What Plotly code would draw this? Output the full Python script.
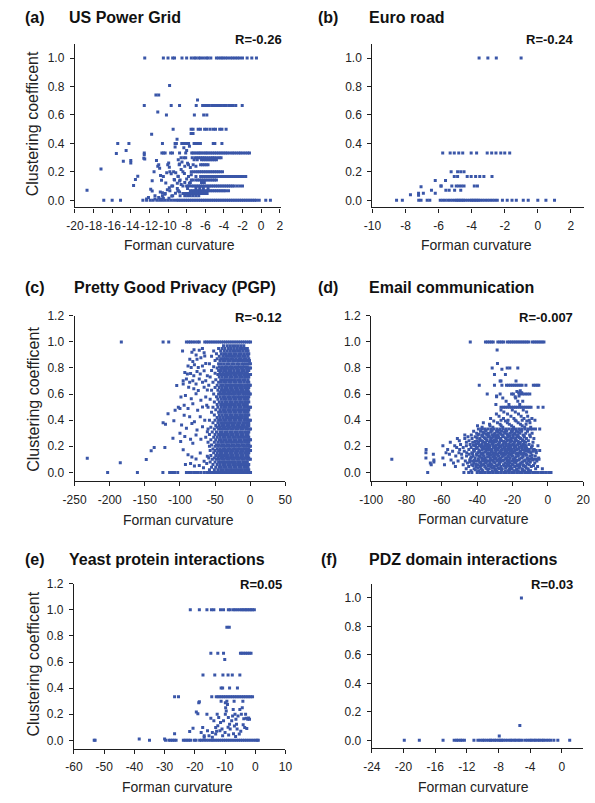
import plotly.graph_objects as go

# ---------------- (a) US Power Grid ----------------
grid_row_y = [1.0, 0.667, 0.6, 0.5, 0.4, 0.333, 0.3, 0.286, 0.25, 0.2, 0.167,
              0.143, 0.125, 0.1, 0.083, 0.067, 0.048, 0.033, 0.0]
grid_row_x = [
    [-12.5, -10.5, -10.0, -9.5, -9.3, -8.5, -8.0, -7.5, -7.2, -7.0, -6.7, -6.5, -6.2, -5.9, -5.7, -5.4,
     -4.8, -4.55, -4.3, -4.1, -3.85, -3.6, -3.3, -3.05, -2.8, -2.55, -2.3, -2.0, -1.5, -1.0, -0.5],
    [-12.55, -9.66, -8.76, -6.97, -6.28, -6.07, -5.83, -5.59, -5.31, -5.07, -4.79, -4.55, -4.28,
     -4.03, -3.76, -3.48, -3.24, -3.0, -2.72, -2.03],
    [-10.17, -7.17, -6.17, -5.83],
    [-9.45, -7.52, -7.31, -6.76, -6.52, -6.07, -5.83, -5.48, -5.14, -4.9, -4.45, -4.21, -3.76],
    [-15.4, -14.2, -10.6, -9.24, -9.1, -8.52, -8.24, -8.0, -7.79, -7.2, -7.03, -6.86, -6.69, -6.52,
     -5.14, -4.97, -4.21],
    [-12.55, -10.66, -10.48, -10.31, -9.72, -9.52, -8.76, -8.1, -7.45, -7.3, -7.1, -6.9, -6.7, -6.55,
     -6.35, -6.15, -5.95, -5.8, -5.6, -5.4, -5.2, -5.0, -4.8, -4.6, -4.4, -4.2, -4.0, -3.8, -3.6,
     -3.35, -3.1, -2.9, -2.65, -2.4, -2.2, -1.95, -1.7, -1.45, -1.25],
    [-8.6, -8.3, -8.1, -7.4, -7.1, -6.9, -6.7, -6.5, -6.3, -6.1, -5.9, -5.65, -5.4, -5.2, -5.0,
     -4.75, -4.5, -4.3],
    [-8.9, -7.2, -6.86, -6.4, -6.2, -6.0, -5.8, -5.6, -5.4, -5.2, -5.0, -4.8],
    [-11.0, -8.8, -7.8, -6.5, -6.3, -6.1, -5.9, -5.7],
    [-11.5, -9.8, -9.4, -8.4, -7.5, -7.25, -7.0, -6.8, -6.6, -6.4, -6.2, -6.0, -5.8, -5.6, -5.4,
     -5.2, -5.0, -4.8, -4.6, -4.4, -4.15],
    [-10.5, -8.9, -7.8, -7.0, -6.5, -6.3, -6.1, -5.9, -5.7, -5.5, -5.3, -5.1, -4.9, -4.7, -4.5,
     -4.3, -4.1, -3.9, -3.7, -3.5, -3.3, -3.1, -2.9, -2.7, -2.5, -2.3, -2.1, -1.9, -1.65],
    [-9.3, -8.7, -7.5, -7.3, -7.0, -6.8, -6.6, -6.4, -6.2, -6.0, -5.8, -5.6, -5.4, -5.2, -5.0, -4.8],
    [-8.2, -7.6, -6.4, -6.1],
    [-9.6, -8.4, -8.0, -7.8, -7.5, -7.3, -7.1, -6.9, -6.7, -6.5, -6.3, -6.1, -5.9, -5.7, -5.5,
     -5.3, -5.1, -4.9, -4.7, -4.5, -4.3, -4.1, -3.9, -3.7, -3.5, -3.3, -3.1, -2.9, -2.6, -2.3, -2.0],
    [-9.0, -7.9, -7.0, -6.6, -6.2, -5.7],
    [-9.8, -8.9, -7.6, -7.4, -7.2, -7.0, -6.8, -6.6, -6.4, -6.2, -6.0, -5.8, -5.6, -5.4, -5.2,
     -5.0, -4.8, -4.6, -4.4, -4.2, -4.0, -3.8, -3.5],
    [-10.3, -8.4, -8.2, -8.0, -7.8, -7.6, -7.4, -7.2, -7.0, -6.8, -6.6, -6.4, -6.2, -6.0, -5.8],
    [-11.4, -10.6, -9.5, -8.7, -8.2, -7.9, -7.6, -7.3, -7.0, -6.7],
    [-16.9, -16.0, -15.1, -12.7, -12.3, -11.9, -11.6, -11.2, -10.9, -10.6, -10.3, -10.0, -9.7,
     -9.4, -9.1, -8.9, -8.7, -8.5, -8.3, -8.1, -7.9, -7.7, -7.5, -7.3, -7.1, -6.9, -6.7, -6.5,
     -6.3, -6.1, -5.9, -5.7, -5.5, -5.3, -5.1, -4.9, -4.7, -4.5, -4.3, -4.1, -3.9, -3.7, -3.5,
     -3.3, -3.1, -2.9, -2.7, -2.5, -2.3, -2.1, -1.9, -1.7, -1.5, -1.3, -1.1, -0.9, -0.7, -0.5,
     -0.2, 0.5, 1.0],
]
grid_pt_x = [-18.7, -17.2, -15.55, -14.5, -14.8, -14.0, -14.0, -13.25, -13.5, -13.7, -12.6, -12.5,
             -12.55, -11.76, -11.1, -11.3, -11.0, -11.7, -11.86, -11.7, -11.24, -11.1, -10.9,
             -10.8, -10.7, -9.83, -10.03, -9.93, -9.86, -10.14, -10.24, -9.66, -10.83, -10.6,
             -10.34, -10.07, -9.86, -9.03, -9.24, -9.17, -8.93, -9.34, -8.76, -8.59, -8.24, -8.76,
             -8.59, -8.93, -8.76, -6.83, -7.52, -7.31, -8.3, -8.0, -7.7, -8.5, -8.2, -7.9, -7.6,
             -7.3, -7.0, -7.5, -8.0, -7.7, -9.5, -9.0, -9.2, -9.6, -11.0, -10.5, -12.1, -11.4, -9.9,
             -12.3, -10.8]
grid_pt_y = [0.07, 0.22, 0.33, 0.35, 0.274, 0.28, 0.263, 0.17, 0.147, 0.105, 0.295, 0.29,
             0.32, 0.465, 0.62, 0.74, 0.74, 0.137, 0.077, 0.065, 0.28, 0.24, 0.225,
             0.175, 0.142, 0.807, 0.25, 0.263, 0.233, 0.193, 0.121, 0.186, 0.058, 0.053,
             0.042, 0.074, 0.088, 0.43, 0.374, 0.193, 0.17, 0.147, 0.256, 0.216, 0.188, 0.135,
             0.112, 0.067, 0.058, 0.705, 0.47, 0.47, 0.37, 0.35, 0.38, 0.27, 0.24, 0.26, 0.23,
             0.25, 0.24, 0.18, 0.15, 0.12, 0.1, 0.12, 0.05, 0.03, 0.02, 0.015, 0.02, 0.01, 0.015,
             0.01, 0.01]

# ---------------- (b) Euro road ----------------
euro_row_y = [1.0, 0.333, 0.2, 0.167, 0.1, 0.0]
euro_row_x = [
    [-3.55, -3.02, -2.51, -1.01],
    [-5.75, -5.3, -5.05, -4.78, -4.54, -4.03, -3.7, -3.06, -2.79, -2.53, -2.24, -2.0, -1.7],
    [-5.24, -4.85, -4.66, -4.46],
    [-5.05, -4.85, -4.27, -4.03, -3.76, -3.51, -3.26, -2.77],
    [-5.85, -5.2, -4.93, -4.78, -4.62, -4.46, -3.84, -3.65],
    [-8.54, -8.19, -7.2, -7.06, -6.69, -6.53, -5.9, -5.75, -5.6, -5.44, -5.3, -5.15, -5.0, -4.9,
     -4.8, -4.7, -4.6, -4.5, -4.4, -4.25, -4.1, -4.0, -3.9, -3.8, -3.7, -3.6, -3.5, -3.35, -3.2,
     -3.05, -2.9, -2.75, -2.6, -2.45, -2.14, -1.85, -1.56, -1.3, -0.88, -0.58, 0.0, 0.49, 1.01],
]
euro_pt_x = [-7.7, -7.21, -7.21, -7.06, -6.92, -6.43, -6.2, -6.2, -5.85, -5.58, -5.56, -5.36,
             -5.03, -4.66]
euro_pt_y = [0.04, 0.05, 0.035, 0.095, 0.05, 0.07, 0.14, 0.05, 0.1, 0.14, 0.07, 0.07,
             0.07, 0.07]

# ---------------- (c) Pretty Good Privacy (PGP) ----------------
pgp_row_y = [1.0, 0.97, 0.95, 0.93, 0.91, 0.89, 0.87, 0.857, 0.833, 0.81, 0.8, 0.78, 0.76, 0.75,
             0.73, 0.71, 0.69, 0.667, 0.65, 0.63, 0.615, 0.6, 0.58, 0.56, 0.54, 0.52, 0.5, 0.48,
             0.46, 0.44, 0.42, 0.4, 0.38, 0.36, 0.345, 0.333, 0.31, 0.29, 0.27, 0.25, 0.23, 0.21,
             0.2, 0.18, 0.167, 0.15, 0.13, 0.11, 0.1, 0.08, 0.06, 0.04, 0.02, 0.0]
pgp_row_x = [
    [-183.5, -124, -116, -90.8, -87.6, -84.9, -81.7, -78.4, -74.8, -72.5, -64.7, -62, -59, -56, -53,
     -50, -47, -44, -41, -38, -35, -32, -29, -26, -23, -20, -17, -14, -11, -8, -5, -2, 0.5],
    [-38, -33, -29, -25, -21, -17, -13, -9],
    [-45, -40, -36, -31, -27, -23, -19, -15, -11, -7, -4],
    [-52, -42, -37, -33, -29, -25, -22, -18, -14, -10, -6, -3],
    [-48, -41, -37, -34, -30, -27, -23, -20, -16, -13, -9, -5, -2],
    [-55, -44, -39, -35, -32, -28, -24, -21, -17, -14, -10, -7, -3],
    [-47, -42, -38, -35, -31, -27, -24, -20, -16, -13, -9, -6, -2],
    [-50, -43, -39, -36, -32, -29, -25, -22, -18, -15, -11, -8, -4, -1],
    [-58, -45, -41, -37, -33, -30, -26, -23, -19, -16, -12, -9, -6, -3, -1, 0.4],
    [-52, -44, -40, -36, -33, -29, -26, -22, -18, -15, -11, -8, -4],
    [-47, -42, -38, -34, -31, -27, -24, -20, -17, -13, -10, -6, -3, -0.5, 0.5],
    [-55, -45, -41, -37, -34, -30, -27, -23, -19, -16, -12, -9, -5, -2],
    [-50, -43, -39, -35, -32, -28, -25, -21, -18, -14, -11, -7, -4],
    [-46, -42, -38, -34, -31, -27, -23, -20, -16, -13, -9, -6, -3, -0.5, 0.5],
    [-57, -44, -40, -36, -33, -29, -26, -22, -19, -15, -12, -8, -5, -2],
    [-49, -42, -38, -35, -31, -28, -24, -21, -17, -14, -10, -7, -3],
    [-53, -45, -41, -37, -34, -30, -27, -23, -20, -16, -13, -9, -5, -2],
    [-59, -47, -42, -39, -35, -32, -28, -25, -21, -18, -14, -11, -7, -4, -1, 0.3],
    [-50, -44, -40, -36, -33, -29, -26, -22, -19, -15, -12, -8, -5, -2],
    [-55, -46, -41, -38, -34, -31, -27, -24, -20, -17, -13, -10, -6, -3],
    [-43, -39, -36, -32, -29, -25, -22, -18, -15, -11, -8, -4, -2],
    [-52, -45, -42, -38, -35, -31, -28, -24, -21, -17, -14, -10, -7, -4, -1, 0.3],
    [-48, -43, -39, -36, -32, -29, -25, -22, -18, -15, -11, -8, -5, -2],
    [-57, -46, -41, -37, -34, -30, -27, -23, -20, -16, -13, -9, -6, -3],
    [-51, -44, -40, -36, -33, -29, -26, -22, -19, -15, -12, -8, -5, -2],
    [-47, -42, -38, -35, -31, -28, -24, -21, -17, -14, -10, -7, -4],
    [-60, -53, -46, -41, -37, -34, -30, -27, -23, -20, -16, -13, -9, -6, -3, -0.5, 0.5],
    [-49, -43, -39, -36, -32, -29, -25, -22, -18, -15, -11, -8, -4, -2],
    [-55, -45, -41, -37, -34, -30, -27, -23, -20, -16, -13, -9, -6, -3],
    [-51, -44, -40, -36, -33, -29, -26, -22, -19, -15, -12, -8, -5, -2],
    [-47, -43, -39, -35, -32, -28, -25, -21, -18, -14, -11, -7, -4],
    [-58, -50, -45, -41, -37, -34, -30, -27, -23, -20, -16, -13, -9, -6, -3, -1, 0.4],
    [-53, -46, -42, -38, -35, -31, -28, -24, -21, -17, -14, -10, -7, -4, -2],
    [-49, -44, -40, -37, -33, -30, -26, -23, -19, -16, -12, -9, -5, -2],
    [-56, -47, -43, -39, -36, -32, -29, -25, -22, -18, -15, -11, -8, -4],
    [-60, -51, -45, -41, -38, -34, -31, -27, -24, -20, -17, -13, -10, -6, -3, -1, 0.5],
    [-54, -48, -43, -40, -36, -33, -29, -26, -22, -19, -15, -12, -8, -5, -2],
    [-58, -50, -45, -41, -38, -34, -31, -27, -24, -20, -17, -13, -10, -6, -3],
    [-52, -47, -43, -39, -36, -32, -29, -25, -22, -18, -15, -11, -8, -4, -2],
    [-56, -49, -44, -41, -37, -34, -30, -27, -23, -20, -16, -13, -9, -6, -3, -0.5, 0.5],
    [-60, -51, -46, -42, -39, -35, -32, -28, -25, -21, -18, -14, -11, -7, -4, -2],
    [-55, -48, -44, -40, -37, -33, -30, -26, -23, -19, -16, -12, -9, -5, -2],
    [-58, -50, -46, -42, -38, -35, -31, -28, -24, -21, -17, -14, -10, -7, -4, -1, 0.4],
    [-53, -47, -43, -39, -36, -32, -29, -25, -22, -18, -15, -11, -8, -5, -2],
    [-57, -50, -45, -41, -38, -34, -31, -27, -24, -20, -17, -13, -10, -6, -3, -0.5, 0.5],
    [-52, -47, -43, -40, -36, -33, -29, -26, -22, -19, -15, -12, -8, -5, -2],
    [-56, -49, -45, -41, -38, -34, -31, -27, -24, -20, -17, -13, -10, -6, -3],
    [-59, -51, -46, -42, -39, -35, -32, -28, -25, -21, -18, -14, -11, -7, -4, -2],
    [-54, -48, -44, -40, -37, -33, -30, -26, -23, -19, -16, -12, -9, -5, -2, 0.3],
    [-57, -50, -45, -42, -38, -35, -31, -28, -24, -21, -17, -14, -10, -7, -4],
    [-53, -47, -43, -39, -36, -32, -29, -25, -22, -18, -15, -11, -8, -5, -2],
    [-55, -49, -44, -41, -37, -34, -30, -27, -23, -20, -16, -13, -9, -6, -3],
    [-58, -51, -46, -42, -39, -35, -32, -28, -25, -21, -18, -14, -11, -7, -4, -2],
    [-203, -160.6, -124.3, -114.7, -111.5, -107.8, -103.2, -90.8, -87.6, -83.9, -80.3, -77.1,
     -73.9, -70.2, -65.6, -61.9, -58, -55, -52, -49, -46, -43, -40, -37, -34, -31, -28, -25,
     -22, -19, -16, -13, -10, -7, -4, -1, 0.5],
]
pgp_pt_x = [-232, -185, -148, -141, -136.7, -121.5, -124, -120.6, -117, -108.7, -110, -99,
            -104.6, -98.6, -102.3, -100, -106.9, -96.3,
            -80, -83, -77, -72.5, -68, -65.6, -86, -81.7, -75.7, -70.2, -64.7, -88.5, -84, -79.4,
            -73.9, -68, -63.3, -93.1, -89.4, -84.9, -80.3, -75.7, -71.1, -65.6, -61, -95.4,
            -90.8, -86.2, -81.7, -77.1, -72.5, -67.9, -63.3, -95.4, -87.6, -80.3, -73.9, -65.6,
            -61, -92.2, -83.9, -77.1, -70.2, -63.3, -94, -88.5, -81.7, -74.8, -67.9, -61.9, -94,
            -86.2, -79.4, -71.1, -64.7, -97.7, -90.8, -83, -75.7, -67.9, -61, -100, -93.1, -84.9,
            -77.1, -70.2, -63.3, -81.7, -95.4, -88.5, -83, -77.1, -71.1, -65.6, -61, -92.2,
            -84.9, -79.4, -72.5, -66.5, -61.9]
pgp_pt_y = [0.108, 0.073, 0.098, 0.166, 0.19, 0.19, 0.38, 0.368, 0.45, 0.395, 0.262, 0.237,
            0.665, 0.577, 0.5, 0.49, 0.476, 0.93,
            0.94, 0.92, 0.9, 0.935, 0.95, 0.917, 0.866, 0.849, 0.866, 0.879, 0.892, 0.816, 0.804,
            0.824, 0.804, 0.816, 0.834, 0.766, 0.753, 0.758, 0.741, 0.773, 0.753, 0.778, 0.741,
            0.703, 0.715, 0.69, 0.703, 0.678, 0.715, 0.69, 0.703, 0.678, 0.652, 0.64, 0.627,
            0.652, 0.632, 0.589, 0.564, 0.602, 0.552, 0.577, 0.514, 0.489, 0.526, 0.476, 0.501,
            0.514, 0.438, 0.426, 0.388, 0.426, 0.4, 0.363, 0.338, 0.375, 0.325, 0.35, 0.312, 0.3,
            0.275, 0.254, 0.287, 0.254, 0.27, 0.224, 0.174, 0.136, 0.118, 0.103, 0.149, 0.086,
            0.123, 0.06, 0.068, 0.048, 0.053, 0.035, 0.068]

# ---------------- (d) Email communication ----------------
mail_row_y = [1.0, 0.8, 0.75, 0.7, 0.667, 0.6, 0.585, 0.57, 0.545, 0.52, 0.5, 0.478, 0.463,
              0.447, 0.43, 0.412, 0.4, 0.394, 0.381, 0.368, 0.357, 0.345, 0.333, 0.316, 0.3,
              0.286, 0.273, 0.259, 0.243, 0.231, 0.214, 0.205, 0.19, 0.176, 0.167, 0.161, 0.15,
              0.138, 0.125, 0.11, 0.1, 0.095, 0.087, 0.071, 0.058, 0.045, 0.027, 0.013, 0.0]
mail_row_x = [
    [-43.9, -35.3, -34.2, -33.1, -32.0, -30.9, -28.3, -27.2, -26.1, -25.0, -22.9, -21.8, -20.7,
     -19.6, -18.5, -17.4, -16.3, -15.2, -14.1, -13.0, -11.9, -10.8, -8.8, -7.7, -6.6, -5.5, -4.4,
     -3.3, -2.2],
    [-31.5, -23, -21.5, -17],
    [-30.2, -24],
    [-27, -26.5, -18],
    [-38.8, -30.2, -26.0, -23.4, -22.3, -21.2, -20.1, -19.0, -17.9, -16.8, -15.7, -14.6, -12.4,
     -8.2, -7.1, -6.0, -5.1],
    [-34.3, -27.0, -20.5, -19.5, -16.0, -14.4, -13.0, -11.6, -10.2],
    [-29.0, -16.3],
    [-25.5, -18.2],
    [-23.6, -17.0, -14.2],
    [-29.4, -22.0, -15.9],
    [-26.5, -25.2, -24.1, -22.9, -21.6, -20.5, -19.4, -18.3, -17.4, -16.1, -15.0, -13.9, -12.8,
     -11.7, -10.6, -9.5, -5.5, -2.7],
    [-26.5, -20.1, -13.9],
    [-24.9, -18.4, -12.0],
    [-29.1, -22.8, -16.6],
    [-27.6, -20.9, -15.1, -11.4],
    [-32.4, -25.1, -19.2, -13.5, -9.0],
    [-26.5, -22.5, -18.5, -14.5, -10.5, -7.3],
    [-30.6, -24.0, -17.9, -11.9],
    [-36.5, -28.5, -22.9, -16.8, -10.1],
    [-33.0, -27.0, -21.8, -15.5, -12.3],
    [-39.8, -32.7, -26.4, -20.5, -14.5],
    [-37.2, -31.1, -25.5, -19.4, -13.1, -9.7],
    [-39.3, -37.5, -35.8, -34.0, -32.3, -30.5, -28.8, -27.0, -25.3, -23.5, -21.8, -20.0, -18.3,
     -16.5, -14.8, -13.0, -11.3, -9.8, -8.6, -7.0, -4.6],
    [-42.0, -38.1, -35.0, -32.1, -29.0, -26.2, -23.3, -20.6, -17.8, -14.8, -11.5],
    [-40.3, -36.2, -33.6, -30.0, -27.1, -24.2, -21.4, -18.7, -15.8, -12.5, -8.9],
    [-47.0, -43.3, -39.6, -37.0, -34.1, -31.3, -28.4, -25.6, -22.7, -19.9, -17.1, -14.0, -10.3],
    [-45.2, -41.1, -36.7, -33.9, -30.8, -27.8, -25.3, -22.5, -19.6, -16.6, -13.3, -9.9],
    [-51.2, -47.0, -42.9, -38.5, -35.4, -32.4, -29.3, -26.7, -23.7, -21.0, -18.1, -15.4, -12.1,
     -7.9],
    [-50.1, -44.6, -40.0, -37.5, -34.6, -31.7, -28.8, -26.1, -23.2, -20.3, -17.7, -14.3, -11.0],
    [-55.2, -46.1, -42.5, -39.2, -36.0, -33.1, -30.5, -27.3, -24.4, -21.5, -18.9, -15.7, -12.6,
     -8.4],
    [-49.4, -44.0, -40.8, -37.3, -34.2, -31.0, -28.1, -25.2, -22.2, -19.8, -16.9, -13.8, -10.6],
    [-59.4, -52.7, -46.1, -41.4, -38.8, -35.8, -32.6, -29.6, -26.9, -23.8, -20.7, -18.3, -15.2,
     -12.2, -8.8, -5.6],
    [-51.6, -47.9, -43.4, -39.9, -36.4, -33.5, -30.1, -27.7, -24.6, -21.7, -19.0, -16.1, -13.0,
     -9.3],
    [-68.9, -56.7, -49.9, -44.7, -42.0, -37.1, -34.7, -31.5, -28.3, -25.7, -22.8, -20.1, -17.3,
     -14.6, -10.8, -7.7],
    [-12.5, -10.5, -8.5, -6.6, -4.6],
    [-53.9, -47.3, -41.6, -38.4, -35.1, -32.0, -29.2, -26.5, -24.0, -21.2, -18.5, -15.6, -11.8,
     -8.2],
    [-57.6, -50.3, -45.9, -43.0, -39.7, -36.6, -33.8, -30.7, -27.6, -25.0, -22.4, -19.5, -16.5,
     -13.4, -9.6, -6.5],
    [-64.8, -55.7, -48.8, -44.5, -40.4, -37.8, -34.4, -31.2, -28.7, -26.3, -23.6, -20.8, -18.0,
     -15.0, -12.4],
    [-52.1, -46.0, -42.3, -38.7, -36.1, -33.3, -30.2, -27.9, -25.4, -22.3, -20.0, -16.8, -13.9,
     -10.2, -7.1],
    [-69.0, -59.4, -48.6, -43.7, -41.2, -37.4, -35.5, -32.5, -29.4, -26.8, -23.9, -21.3, -18.6,
     -14.9, -11.7, -9.1, -5.2],
    [-88.3, -10.0, -8.0, -6.5, -5.0],
    [-64.5, -54.8, -44.2, -39.0, -34.9, -31.8, -27.2, -24.8, -22.0, -19.1, -16.3, -12.9, -8.6],
    [-50.8, -46.7, -42.6, -40.1, -36.3, -33.7, -30.9, -28.6, -26.0, -23.1, -20.4, -17.5, -13.6,
     -10.9, -6.2],
    [-66.5, -53.4, -45.5, -41.9, -38.0, -35.2, -32.8, -29.9, -27.5, -24.3, -21.6, -18.2, -15.3,
     -12.0, -7.4],
    [-66.0, -58.5, -47.9, -43.1, -39.5, -36.9, -34.0, -31.6, -28.2, -25.1, -22.9, -19.7, -17.0,
     -14.1, -10.5],
    [-52.3, -44.8, -40.6, -38.3, -35.7, -32.2, -30.4, -26.6, -23.5, -21.1, -18.8, -15.9, -12.7,
     -9.4, -5.8],
    [-46.2, -41.7, -37.9, -34.6, -33.1, -29.7, -27.4, -25.8, -21.9, -20.2, -17.6, -14.4, -11.3,
     -6.9, -3.1],
    [-43.5, -39.2, -36.8, -31.4, -28.9, -24.1, -22.6, -19.3, -16.7, -13.2, -9.8],
    [-68, -47.5, -44.8, -43, -40, -38.5, -37, -35.5, -34, -32.5, -31, -29.5, -28, -26.5, -25,
     -23.5, -22, -20.5, -19, -17.5, -16, -14.5, -13, -11.5, -10, -8.5, -7, -5.5, -4, -2.5, -1,
     0.5, 1.8],
]
# denser core of the e-mail cloud
mail_core_y = [0.02, 0.035, 0.052, 0.065, 0.08, 0.092, 0.104, 0.118, 0.131, 0.144, 0.156, 0.171,
               0.183, 0.197, 0.21, 0.222, 0.237, 0.25, 0.265, 0.28, 0.292, 0.308, 0.323]
mail_core_x = [
    [-41.0, -37.3, -33.9, -29.8, -26.2, -21.4, -17.9, -14.6, -11.1],
    [-39.6, -35.1, -31.3, -28.1, -23.9, -20.7, -16.2, -12.3],
    [-42.3, -37.7, -33.6, -29.0, -24.8, -22.1, -17.3, -13.8, -8.1],
    [-40.7, -36.2, -32.3, -27.3, -23.1, -20.2, -15.7, -11.6],
    [-44.1, -38.6, -34.8, -30.6, -26.9, -22.6, -18.9, -14.4, -9.9],
    [-41.5, -37.0, -32.7, -28.9, -25.5, -21.9, -17.7, -12.8],
    [-39.4, -35.9, -30.2, -27.8, -23.4, -19.6, -16.0, -11.2],
    [-43.2, -38.3, -34.1, -30.9, -25.9, -22.7, -18.1, -14.2],
    [-40.2, -36.7, -32.1, -28.4, -24.6, -20.6, -16.7, -12.1, -8.9],
    [-42.6, -37.6, -33.0, -29.6, -26.1, -21.8, -17.6, -13.7],
    [-39.1, -35.4, -31.6, -27.0, -23.3, -20.0, -15.3, -10.7],
    [-41.8, -38.9, -33.4, -29.7, -26.6, -21.6, -18.6, -13.2],
    [-40.5, -36.0, -32.9, -28.6, -24.2, -20.9, -16.4, -11.9],
    [-37.7, -34.6, -30.8, -26.3, -22.5, -18.1, -14.4],
    [-42.2, -38.2, -33.2, -29.1, -25.7, -21.1, -17.4, -12.9],
    [-39.5, -35.3, -31.4, -27.6, -23.7, -19.2, -15.6],
    [-41.1, -36.9, -32.6, -29.4, -25.0, -21.2, -16.8, -13.4],
    [-38.4, -34.4, -30.3, -26.8, -22.3, -18.5, -14.1],
    [-40.1, -35.8, -31.9, -28.1, -24.0, -19.7, -16.1],
    [-37.4, -33.1, -29.5, -25.4, -21.6, -17.6, -13.5],
    [-38.9, -34.8, -30.4, -26.5, -23.0, -18.9],
    [-36.6, -32.2, -28.3, -24.5, -20.2, -16.9],
    [-35.2, -31.5, -27.7, -23.9, -19.8, -15.9],
]
mail_pt_x = [-28.7, -28.5, -26, -17.5, -16.5, -15.6, -14.8, -18.5, -29, -69.0, -64.5]
mail_pt_y = [0.937, 0.835, 0.79, 0.62, 0.61, 0.625, 0.61, 0.58, 0.58, 0.15, 0.08]

# ---------------- (e) Yeast protein interactions ----------------
yeast_row_y = [1.0, 0.866, 0.667, 0.62, 0.5, 0.4, 0.333, 0.0]
yeast_row_x = [
    [-21.5, -18.5, -16.0, -14.5, -13.7, -11.5, -10.5, -8.9, -8.3, -7.3, -6.7, -6.0, -5.3, -4.6,
     -4.1, -3.5, -3.0, -2.5, -1.9, -1.4, -0.9, -0.3],
    [-9.4, -8.6],
    [-14.7, -12.4, -10.5, -4.9, -4.4, -3.8, -3.2, -2.6, -2.0, -1.4],
    [-10.1],
    [-17.3, -13.4, -10.7, -9.0, -7.6, -5.1],
    [-11.3, -10.8, -8.5, -5.9],
    [-26.7, -25.4, -14.4, -12.9, -12.3, -11.7, -11.1, -10.5, -9.9, -9.3, -8.7, -8.1, -7.5, -6.9,
     -6.3, -5.7, -5.1, -4.5, -3.9, -3.3, -2.7, -2.1, -1.5, -0.9],
    [-53.3, -53.0, -35.0, -29.7, -28.6, -28.0, -27.4, -26.8, -26.2, -23.8, -23.2, -22.6, -22.0,
     -21.4, -20.2, -19.6, -18.4, -17.8, -17.0, -16.2, -15.4, -14.6, -14.0, -13.3, -12.6, -11.9,
     -11.2, -10.5, -9.8, -9.1, -8.4, -7.7, -7.0, -6.3, -5.6, -4.9, -4.2, -3.5, -2.8, -2.1, -1.4,
     -0.7, 0.0, 0.6, 1.0],
]
yeast_pt_x = [-38.4, -30.0, -26.7, -19.5, -19.0, -18.7, -18.5, -20.6, -21.7, -17.4, -17.9, -16.9,
              -16.0, -15.8, -14.7, -13.7, -13.1, -14.2, -12.6, -12.1, -11.5, -12.4, -11.0, -10.5,
              -9.9, -9.6, -9.4, -9.2, -9.8, -8.9, -8.5, -8.3, -7.8, -7.5, -7.3, -6.7, -6.4, -6.2,
              -6.0, -5.7, -5.3, -5.1, -4.6, -4.1, -3.8, -3.5, -3.0, -2.5, -1.9, -9.9, -11.3,
              -11.7, -13.1, -15.3, -14.2, -16.9, -10.0, -8.8, -7.2, -6.5, -4.8, -2.8, -4.0, -10.8,
              -12.8, -9.0, -6.9, -4.3, -3.2, -2.2, -7.0]
yeast_pt_y = [0.01, 0.01, 0.05, 0.217, 0.204, 0.287, 0.295, 0.093, 0.068, 0.098, 0.06, 0.035,
              0.2, 0.073, 0.169, 0.149, 0.098, 0.06, 0.2, 0.174, 0.136, 0.111, 0.086, 0.149,
              0.2, 0.224, 0.3, 0.275, 0.25, 0.174, 0.123, 0.086, 0.149, 0.186, 0.237, 0.2, 0.161,
              0.123, 0.086, 0.186, 0.048, 0.237, 0.2, 0.3, 0.166, 0.098, 0.169, 0.161, 0.161,
              0.287, 0.3, 0.073, 0.048, 0.035, 0.023, 0.023, 0.06, 0.04, 0.05, 0.03, 0.07, 0.09,
              0.12, 0.035, 0.07, 0.1, 0.11, 0.25, 0.2, 0.17, 0.3]

# ---------------- (f) PDZ domain interactions ----------------
pdz_row_y = [0.0]
pdz_row_x = [
    [-19.9, -18.0, -15.0, -13.6, -13.3, -13.1, -12.8, -12.6, -12.3, -11.1, -10.6, -10.3, -10.0,
     -9.8, -9.5, -9.2, -9.0, -8.8, -8.5, -8.3, -8.0, -7.8, -7.6, -7.4, -7.1, -6.8, -6.5, -6.3,
     -6.0, -5.8, -5.5, -5.3, -5.0, -4.6, -4.3, -4.0, -3.8, -3.5, -3.3, -3.0, -2.8, -2.5, -2.3,
     -2.0, -1.7, -1.4, -1.0, -0.5, 1.0],
]
pdz_pt_x = [-7.9, -5.3, -5.1]
pdz_pt_y = [0.03, 0.105, 1.0]

# ---------------- panel labels, titles, correlations, ticks ----------------
panel_tags = ["(a)", "(b)", "(c)", "(d)", "(e)", "(f)"]
panel_titles = ["US Power Grid", "Euro road", "Pretty Good Privacy (PGP)",
                "Email communication", "Yeast protein interactions", "PDZ domain interactions"]
panel_r = ["R=-0.26", "R=-0.24", "R=-0.12", "R=-0.007", "R=0.05", "R=0.03"]

grid_xticks = [-20, -18, -16, -14, -12, -10, -8, -6, -4, -2, 0, 2]
euro_xticks = [-10, -8, -6, -4, -2, 0, 2]
pgp_xticks = [-250, -200, -150, -100, -50, 0, 50]
mail_xticks = [-100, -80, -60, -40, -20, 0, 20]
yeast_xticks = [-60, -50, -40, -30, -20, -10, 0, 10]
pdz_xticks = [-24, -20, -16, -12, -8, -4, 0]
yticks_10 = [0.0, 0.2, 0.4, 0.6, 0.8, 1.0]
yticks_12 = [0.0, 0.2, 0.4, 0.6, 0.8, 1.0, 1.2]

x_title = "Forman curvature"
y_title = "Clustering coefficent"

# ---------------- layout ----------------
W, H = 595, 803
FONT = "Liberation Sans, Arial, sans-serif"
BLUE = "#3a56a8"
AXIS = "#1e1e1e"


def expand(row_y, row_x, pt_x, pt_y):
    xs, ys = list(pt_x), list(pt_y)
    for yv, xl in zip(row_y, row_x):
        xs += xl
        ys += [yv] * len(xl)
    return xs, ys


def px(x):
    return x / W


def py(y):
    return 1 - y / H


datasets = [
    expand(grid_row_y, grid_row_x, grid_pt_x, grid_pt_y),
    expand(euro_row_y, euro_row_x, euro_pt_x, euro_pt_y),
    expand(pgp_row_y, pgp_row_x, pgp_pt_x, pgp_pt_y),
    expand(mail_row_y + mail_core_y, mail_row_x + mail_core_x, mail_pt_x, mail_pt_y),
    expand(yeast_row_y, yeast_row_x, yeast_pt_x, yeast_pt_y),
    expand(pdz_row_y, pdz_row_x, pdz_pt_x, pdz_pt_y),
]
xticks = [grid_xticks, euro_xticks, pgp_xticks, mail_xticks, yeast_xticks, pdz_xticks]
yticks = [yticks_10, yticks_10, yticks_12, yticks_12, yticks_12, yticks_10]

# plot-area boxes in pixels: left, right, top, bottom, x-range, y-range
boxes = [
    (65.0, 278.0, 37.15, 202.2, [-20, 2.15], [-0.05, 1.1]),
    (372.3, 591.0, 37.15, 202.2, [-10, 2.8], [-0.05, 1.1]),
    (64.7, 282.3, 311.5, 478.3, [-250, 50], [-0.067, 1.2]),
    (371.0, 590.0, 311.5, 478.3, [-100, 20], [-0.067, 1.2]),
    (64.0, 282.5, 581.8, 748.3, [-60, 10], [-0.065, 1.2]),
    (371.7, 590.0, 581.7, 747.7, [-24, 2.7], [-0.055, 1.1]),
]
# text anchor positions (pixels); left/right anchors allow for the annotation padding
tag_pos = [(11, 11), (314, 11), (11, 283), (314, 283), (11, 557), (317, 557)]
title_pos = [(57, 11), (367, 11), (62, 283), (367, 283), (57, 557), (367, 557)]
r_pos = [(281, 33), (582, 33), (281, 313), (582, 313), (281, 583), (582, 583)]
xt_pos = [(173, 240), (480, 240), (172, 518), (477, 516), (171, 787), (477, 787)]
yt_pos = [(22, 118), None, (22, 396), None, (22, 663), None]

fig = go.Figure()
annotations = []
for i in range(6):
    xs, ys = datasets[i]
    left, right, top, bottom, xr, yr = boxes[i]
    sfx = "" if i == 0 else str(i + 1)
    fig.add_trace(go.Scatter(
        x=xs, y=ys, mode="markers", xaxis="x" + sfx, yaxis="y" + sfx,
        marker=dict(symbol="square", size=3.0, color=BLUE, line=dict(width=0)),
        hoverinfo="skip", showlegend=False))
    common = dict(showgrid=False, zeroline=False, showline=True, linecolor=AXIS, linewidth=1.3,
                  ticks="outside", ticklen=4, tickwidth=1.1, tickcolor=AXIS,
                  tickfont=dict(family=FONT, size=12, color="#222222"))
    fig.layout["xaxis" + sfx] = dict(
        domain=[px(left), px(right)], range=xr, anchor="y" + sfx, tickangle=0,
        tickmode="array", tickvals=xticks[i], ticktext=[str(v) for v in xticks[i]],
        ticklabelstandoff=3, **common)
    fig.layout["yaxis" + sfx] = dict(
        domain=[py(bottom), py(top)], range=yr, anchor="x" + sfx,
        tickmode="array", tickvals=yticks[i], ticktext=["%.1f" % v for v in yticks[i]],
        ticklabelstandoff=3, **common)

    tx, ty = tag_pos[i]
    annotations.append(dict(text="<b>%s</b>" % panel_tags[i], x=px(tx), y=py(ty),
                            xanchor="left", yanchor="middle",
                            font=dict(family=FONT, size=16, color="#111111")))
    tx, ty = title_pos[i]
    annotations.append(dict(text="<b>%s</b>" % panel_titles[i], x=px(tx), y=py(ty),
                            xanchor="left", yanchor="middle",
                            font=dict(family=FONT, size=16, color="#111111")))
    tx, ty = r_pos[i]
    annotations.append(dict(text="<b>%s</b>" % panel_r[i], x=px(tx), y=py(ty),
                            xanchor="right", yanchor="middle",
                            font=dict(family=FONT, size=13, color="#111111")))
    tx, ty = xt_pos[i]
    annotations.append(dict(text=x_title, x=px(tx), y=py(ty), xanchor="center",
                            yanchor="middle", font=dict(family=FONT, size=14, color="#222222")))
    if yt_pos[i] is not None:
        tx, ty = yt_pos[i]
        annotations.append(dict(text=y_title, x=px(tx), y=py(ty), xanchor="center",
                                yanchor="middle", textangle=-90,
                                font=dict(family=FONT, size=16, color="#222222")))

for a in annotations:
    a.update(xref="paper", yref="paper", showarrow=False)

fig.update_layout(width=W, height=H, margin=dict(l=0, r=0, t=0, b=0),
                  paper_bgcolor="white", plot_bgcolor="white",
                  annotations=annotations, showlegend=False)

fig.write_html("out.html", config={"displayModeBar": False})
